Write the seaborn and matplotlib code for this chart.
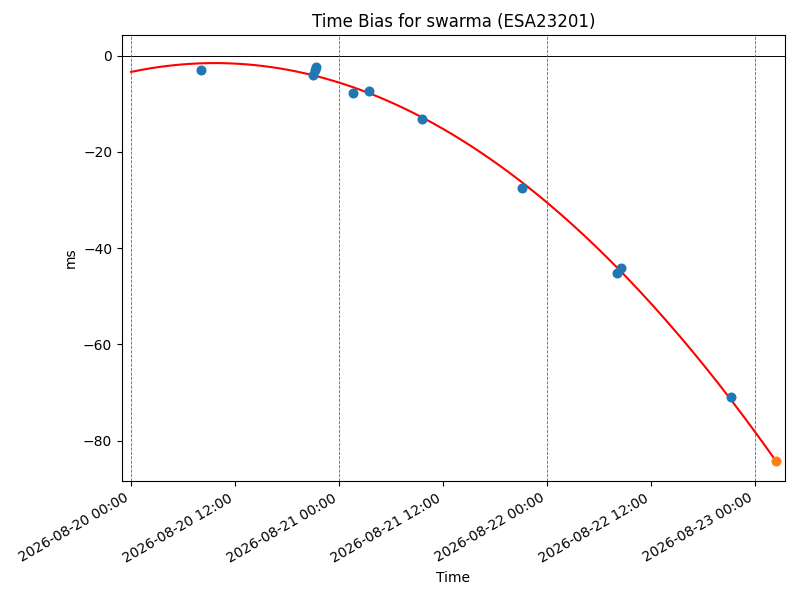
import numpy as np
import pandas as pd
import matplotlib
matplotlib.use("Agg")
import matplotlib.pyplot as plt
import matplotlib.dates as mdates
import seaborn as sns

# measured time bias (ms)
obs_times = ["2026-08-20 08:05", "2026-08-20 21:00", "2026-08-20 21:15",
             "2026-08-20 21:18", "2026-08-21 01:35", "2026-08-21 03:30",
             "2026-08-21 09:35", "2026-08-21 21:05", "2026-08-22 08:05",
             "2026-08-22 08:30", "2026-08-22 21:15"]
obs_bias = [-2.9, -3.95, -3.0, -2.3, -7.7, -7.3, -13.1, -27.4, -45.1, -44.05, -70.9]

# predicted point
pred_time = "2026-08-23 02:25"
pred_bias = -84.2

fit_start = "2026-08-20 00:00"
day_lines = ["2026-08-20", "2026-08-21", "2026-08-22", "2026-08-23"]

df = pd.DataFrame({"Time": pd.to_datetime(obs_times), "ms": obs_bias})
t0 = pd.Timestamp(fit_start)
tp = pd.Timestamp(pred_time)

# quadratic fit of the observations, drawn up to the prediction time
days = (df["Time"] - t0).dt.total_seconds() / 86400
coef = np.polyfit(days, df["ms"], 2)
curve_t = pd.date_range(t0, tp, periods=200)
curve_d = (curve_t - t0).total_seconds() / 86400
fit_df = pd.DataFrame({"Time": curve_t, "ms": np.polyval(coef, curve_d)})

fig, ax = plt.subplots(figsize=(8, 6), dpi=100)

sns.lineplot(data=fit_df, x="Time", y="ms", color="red", linewidth=1.5, ax=ax)
sns.scatterplot(data=df, x="Time", y="ms", color="#1f77b4", s=52, linewidth=0, ax=ax, zorder=3)
sns.scatterplot(x=[tp], y=[pred_bias], color="#ff7f0e", s=52, linewidth=0, ax=ax, zorder=3)

ax.axhline(0, color="black", linewidth=0.7)
for d in day_lines:
    ax.axvline(pd.Timestamp(d), color="#1f77b4", linestyle="--", linewidth=0.6)

ax.set_xlim(t0 - pd.Timedelta(hours=1.05), t0 + pd.Timedelta(days=3.144))
ax.set_ylim(-88.4, 4.3)
ax.xaxis.set_major_locator(mdates.HourLocator(byhour=[0, 12]))
ax.xaxis.set_major_formatter(mdates.DateFormatter("%Y-%m-%d %H:%M"))
fig.autofmt_xdate()

ax.set_title("Time Bias for swarma (ESA23201)")
ax.set_xlabel("Time")
ax.set_ylabel("ms")

fig.subplots_adjust(left=0.1525, right=0.981, top=0.9417, bottom=0.198)
fig.savefig("out.png")
